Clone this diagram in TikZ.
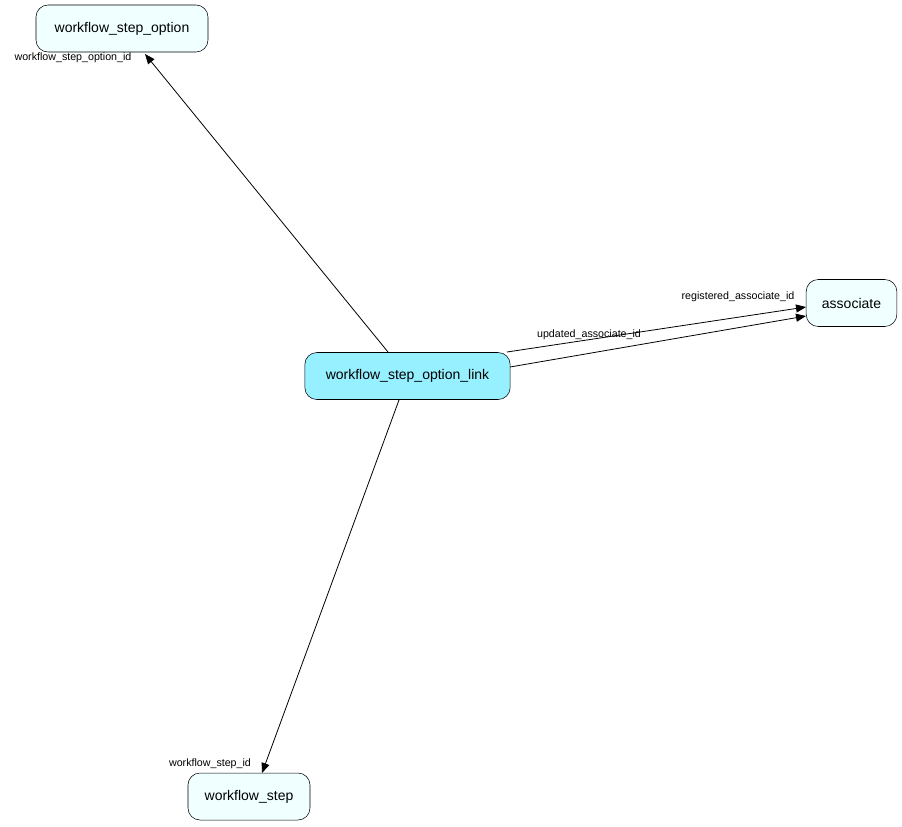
\documentclass[tikz,border=0pt]{standalone}
\usepackage{fontspec}
\setmainfont{Liberation Sans}
\usetikzlibrary{arrows.meta}
\definecolor{pale}{HTML}{F0FFFF}
\definecolor{cyanf}{HTML}{96F0FF}
\begin{document}
\begin{tikzpicture}[x=0.75pt,y=-0.75pt,
  tbl/.style={draw,rounded corners=9pt,fill=pale,minimum height=35.25pt,font=\fontsize{10.5}{12}\selectfont,inner sep=0pt},
  lbl/.style={font=\fontsize{8}{9}\selectfont,inner sep=0pt},
  fk/.style={-{Triangle[length=7.5pt,width=6pt]},line width=0.6pt}]
\useasboundingbox (0,0) rectangle (902,826);
\node[tbl,minimum width=129pt] (wso) at (122,28.5) {workflow\_step\_option};
\node[tbl,minimum width=154pt,fill=cyanf] (link) at (407.5,376) {workflow\_step\_option\_link};
\node[tbl,minimum width=68pt] (asc) at (851.5,303) {associate};
\node[tbl,minimum width=91.5pt] (ws) at (249,796.5) {workflow\_step};
\coordinate (a1) at (388,352); \coordinate (b1) at (145,54);
\coordinate (a2) at (399,400); \coordinate (b2) at (262,773);
\coordinate (a3) at (507,352); \coordinate (b3) at (806,307);
\coordinate (a4) at (510,367); \coordinate (b4) at (806,316);
\draw[fk] (a1) -- (b1);
\draw[fk] (a2) -- (b2);
\draw[fk] (a3) -- (b3);
\draw[fk] (a4) -- (b4);
\node[lbl] at (73,58) {workflow\_step\_option\_id};
\node[lbl] at (210,764) {workflow\_step\_id};
\node[lbl] at (738,297) {registered\_associate\_id};
\node[lbl] at (589,335) {updated\_associate\_id};
\end{tikzpicture}
\end{document}
